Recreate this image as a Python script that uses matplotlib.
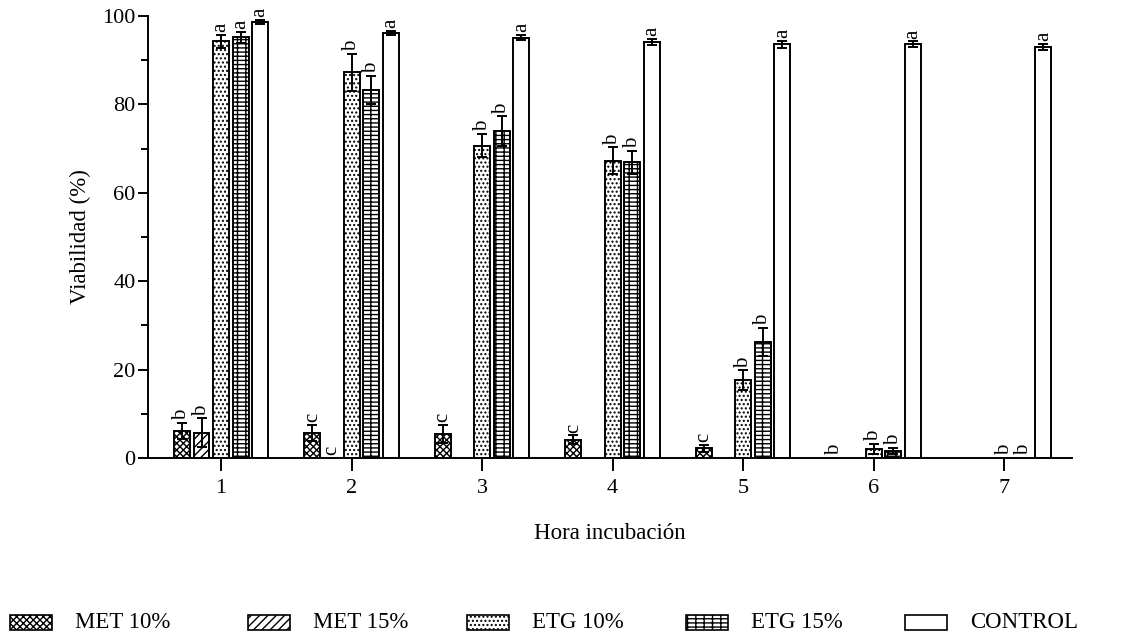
import matplotlib
matplotlib.use("Agg")
import matplotlib.pyplot as plt
import numpy as np
from matplotlib.patches import Rectangle
from matplotlib.ticker import MultipleLocator

plt.rcParams['font.family'] = ['Liberation Serif', 'DejaVu Serif']
plt.rcParams['hatch.linewidth'] = 1.0

hours = [1, 2, 3, 4, 5, 6, 7]
series = ["MET 10%", "MET 15%", "ETG 10%", "ETG 15%", "CONTROL"]

met10 = [6.1, 5.7, 5.4, 4.1, 2.2, 0.0, 0.0]
met15 = [5.7, 0.0, 0.0, 0.0, 0.0, 0.0, 0.0]
etg10 = [94.3, 87.3, 70.7, 67.3, 17.6, 2.1, 0.0]
etg15 = [95.2, 83.2, 73.9, 66.9, 26.3, 1.6, 0.0]
control = [98.7, 96.1, 95.1, 94.1, 93.6, 93.6, 93.0]

met10_err = [1.9, 1.8, 2.1, 1.0, 0.8, 0.0, 0.0]
met15_err = [3.3, 0.0, 0.0, 0.0, 0.0, 0.0, 0.0]
etg10_err = [1.5, 4.2, 2.7, 3.0, 2.2, 1.1, 0.0]
etg15_err = [1.2, 3.2, 3.4, 2.6, 3.2, 0.7, 0.0]
control_err = [0.4, 0.5, 0.6, 0.7, 0.8, 0.7, 0.7]

met10_lbl = ["b", "c", "c", "c", "c", "b", ""]
met15_lbl = ["b", "c", "", "", "", "", ""]
etg10_lbl = ["a", "b", "b", "b", "b", "b", "b"]
etg15_lbl = ["a", "b", "b", "b", "b", "b", "b"]
control_lbl = ["a", "a", "a", "a", "a", "a", "a"]

values = [met10, met15, etg10, etg15, control]
errors = [met10_err, met15_err, etg10_err, etg15_err, control_err]
labels = [met10_lbl, met15_lbl, etg10_lbl, etg15_lbl, control_lbl]
hatches = ["xxxxx", "////", "....", "----||", ""]

W, H = 1132, 644
fig = plt.figure(figsize=(W/100, H/100), dpi=100)
ax = fig.add_axes([148/W, 1-458/H, (1072-148)/W, (458-16)/H])

x = np.array(hours, dtype=float)
step = 0.15
width = 0.122
offsets = [-2*step, -step, 0, step, 2*step]

for vals, errs, lbls, hatch, off in zip(values, errors, labels, hatches, offsets):
    xs = x + off
    v = np.array(vals)
    e = np.array(errs)
    mask = v > 0
    ax.bar(xs[mask], v[mask], width=width, color="white", edgecolor="black",
           linewidth=1.4, hatch=hatch, zorder=2)
    emask = mask & (e > 0)
    ax.errorbar(xs[emask], v[emask], yerr=e[emask], fmt="none", ecolor="black",
                elinewidth=1.4, capsize=3.5, capthick=1.4, zorder=3)
    for xi, vi, ei, li in zip(xs, v, e, lbls):
        if li:
            ax.text(xi, vi + ei + 0.6, li, rotation=90, ha="center", va="bottom",
                    fontsize=15)

ax.set_xlim(0.44, 7.52)
ax.set_ylim(0, 100)
ax.set_xticks(hours)
ax.set_xticklabels([str(h) for h in hours])
ax.yaxis.set_major_locator(MultipleLocator(20))
ax.yaxis.set_minor_locator(MultipleLocator(10))
ax.spines['top'].set_visible(False)
ax.spines['right'].set_visible(False)
ax.spines['left'].set_linewidth(1.4)
ax.spines['bottom'].set_linewidth(1.4)
ax.tick_params(axis='both', which='major', direction='out', length=7, width=1.4,
               labelsize=16)
ax.tick_params(axis='y', which='minor', direction='out', length=5, width=1.4)
ax.tick_params(axis='y', which='major', pad=2)
ax.tick_params(axis='x', which='major', length=9, pad=6)
ax.set_ylabel("Viabilidad (%)", fontsize=16.5, labelpad=8)
ax.set_xlabel("Hora incubación", fontsize=16.5, labelpad=18)

# legend laid out along the bottom edge like the reference
handle_x = [10, 248, 467, 686, 905]
leg_y = 622
hw, hh = 42, 15
for hx, h, s in zip(handle_x, hatches, series):
    fig.patches.append(Rectangle((hx/W, 1-(leg_y+hh/2)/H), hw/W, hh/H,
                                 transform=fig.transFigure, facecolor="white",
                                 edgecolor="black", hatch=h, linewidth=1.2))
    fig.text((hx+65)/W, 1-leg_y/H, s, fontsize=16.5, ha="left", va="center")

fig.savefig("out.png", dpi=100)
